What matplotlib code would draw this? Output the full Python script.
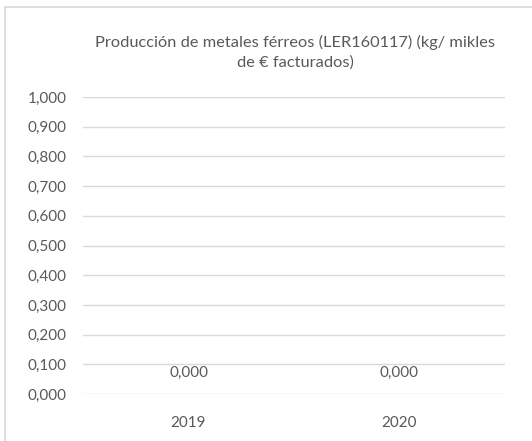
import matplotlib
matplotlib.use('Agg')
import matplotlib.pyplot as plt
from matplotlib.patches import Rectangle
from matplotlib.ticker import FuncFormatter

plt.rcParams['font.family'] = ['Lato', 'DejaVu Sans']

years = ['2019', '2020']
values = [0.0, 0.0]
title = 'Producción de metales férreos (LER160117) (kg/ mikles\nde € facturados)'

grey_txt = '#595959'
grid_col = '#d9d9d9'

fig = plt.figure(figsize=(5.32, 4.41), dpi=100)
fig.patch.set_facecolor('white')

# chart area border (runs off the right / bottom edge like the source crop)
fig.patches.append(Rectangle((5 / 532, -0.1), 1.2, 1 - 7 / 441 + 0.1,
                             transform=fig.transFigure, fill=False,
                             edgecolor=grid_col, linewidth=1.2))

ax = fig.add_axes([83 / 532, 1 - 394 / 441, 422 / 532, 297 / 441])
x = range(len(years))
bars = ax.bar(x, values, width=0.6, color='#4472c4')

ax.set_ylim(0, 1.0)
ax.set_xlim(-0.5, 1.5)
ax.set_yticks([i / 10 for i in range(11)])
ax.yaxis.set_major_formatter(FuncFormatter(lambda v, p: f'{v:.3f}'.replace('.', ',')))
ax.set_xticks(list(x))
ax.set_xticklabels(years)
ax.grid(axis='y', color=grid_col, linewidth=1)
ax.set_axisbelow(True)
for s in ax.spines.values():
    s.set_visible(False)
ax.tick_params(length=0, labelsize=11, colors=grey_txt)
ax.tick_params(axis='y', pad=12)
ax.tick_params(axis='x', pad=16)

for xi, v in zip(x, values):
    ax.annotate(f'{v:.3f}'.replace('.', ','), (xi, v), xytext=(0, 14),
                textcoords='offset pixels', ha='center', va='bottom',
                fontsize=11, color=grey_txt)

fig.text(295 / 532, 1 - 52 / 441, title, ha='center', va='center',
         fontsize=11.8, color=grey_txt, linespacing=1.45)

fig.savefig('out.png', dpi=100)
